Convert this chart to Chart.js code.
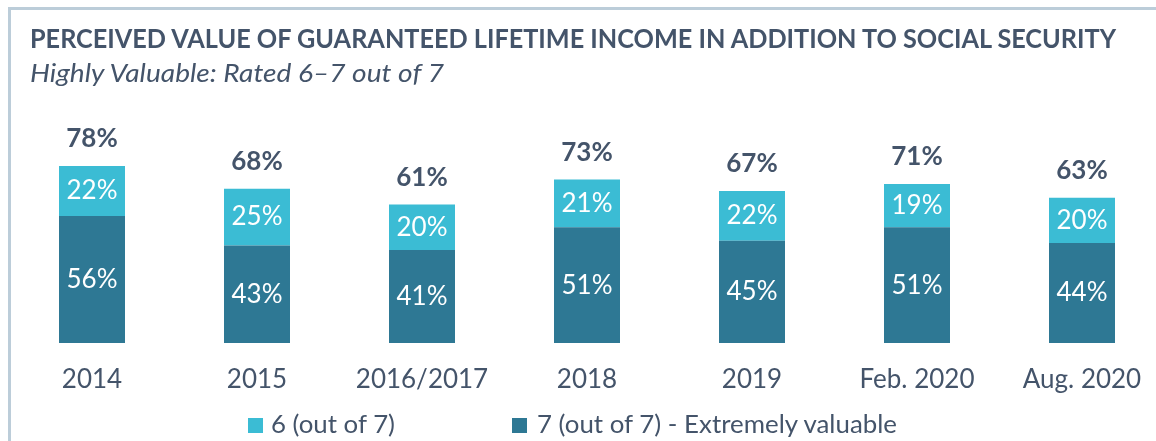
<!DOCTYPE html>
<html>
<head>
<meta charset="utf-8">
<script src="https://cdn.jsdelivr.net/npm/chart.js@4/dist/chart.umd.min.js"></script>
<style>
  html, body { margin: 0; padding: 0; background: #ffffff; overflow: hidden; }
  #wrap { position: relative; width: 1156px; height: 441px; overflow: hidden; background: #fff; }
  #frame { position: absolute; left: 8px; top: 7px; right: -20px; bottom: -20px;
           border-top: 3px solid #bccdd9; border-left: 3px solid #bccdd9; }
  #cv { position: absolute; left: 0; top: 0; }
  .txt { position: absolute; white-space: nowrap; font-family: Lato, "Open Sans", sans-serif; color: #44546a;
         transform-origin: 0 0; }
  #title { left: 30px; top: 25px; font-size: 26px; line-height: 26px; font-weight: 700; }
  #subtitle { left: 30px; top: 59px; font-size: 26px; line-height: 26px; font-style: italic; }
  .leg { position: absolute; top: 411px; height: 25px; }
  .leg .box { position: absolute; left: 0; top: 7px; width: 15px; height: 15px; }
  .leg .lt { position: absolute; top: 0; font-size: 25px; line-height: 25px; white-space: nowrap;
             font-family: Lato, "Open Sans", sans-serif; color: #44546a; transform-origin: 0 0; }
</style>
</head>
<body>
<div id="wrap">
  <div id="frame"></div>
  <canvas id="cv" width="1175" height="441"></canvas>
  <div id="title" class="txt">PERCEIVED VALUE OF GUARANTEED LIFETIME INCOME IN ADDITION TO SOCIAL SECURITY</div>
  <div id="subtitle" class="txt">Highly Valuable: Rated 6–7 out of 7</div>
  <div class="leg" id="leg1" style="left:248px"><div class="box" style="background:#3bbcd4"></div><div class="lt" style="left:23px">6 (out of 7)</div></div>
  <div class="leg" id="leg2" style="left:512px"><div class="box" style="background:#2e7894"></div><div class="lt" style="left:25px">7 (out of 7) - Extremely valuable</div></div>
</div>
<script>
// ---- data ----
const categories = ['2014', '2015', '2016/2017', '2018', '2019', 'Feb. 2020', 'Aug. 2020'];
const rated6 = [22, 25, 20, 21, 22, 19, 20];
const rated7 = [56, 43, 41, 51, 45, 51, 44];
const totals = [78, 68, 61, 73, 67, 71, 63];
const seriesNames = ['7 (out of 7) - Extremely valuable', '6 (out of 7)'];

// fit HTML texts to measured widths of the reference
function fitWidth(el, target) {
  const w = el.getBoundingClientRect().width;
  if (w > 0) el.style.transform = 'scaleX(' + (target / w) + ')';
}
fitWidth(document.getElementById('title'), 1086);
fitWidth(document.getElementById('subtitle'), 414);
fitWidth(document.querySelector('#leg1 .lt'), 124);
fitWidth(document.querySelector('#leg2 .lt'), 360);

const TEXT = '#44546a';
const DARK = '#2e7894';
const LIGHT = '#3bbcd4';

const labelPlugin = {
  id: 'barLabels',
  afterDatasetsDraw(chart) {
    const ctx = chart.ctx;
    ctx.save();
    ctx.textAlign = 'center';
    ctx.textBaseline = 'middle';
    ctx.fillStyle = '#ffffff';
    ctx.font = '26px Lato, "Open Sans", sans-serif';
    chart.data.datasets.forEach((ds, i) => {
      const meta = chart.getDatasetMeta(i);
      meta.data.forEach((bar, j) => {
        ctx.fillText(ds.data[j] + '%', bar.x, (bar.y + bar.base) / 2);
      });
    });
    const topMeta = chart.getDatasetMeta(chart.data.datasets.length - 1);
    ctx.fillStyle = TEXT;
    ctx.font = 'bold 26px Lato, "Open Sans", sans-serif';
    ctx.textBaseline = 'alphabetic';
    topMeta.data.forEach((bar, j) => {
      ctx.fillText(totals[j] + '%', bar.x, bar.y - 19);
    });
    ctx.restore();
  }
};

new Chart(document.getElementById('cv'), {
  type: 'bar',
  data: {
    labels: categories,
    datasets: [
      { label: seriesNames[0], data: rated7, backgroundColor: DARK, borderWidth: 0 },
      { label: seriesNames[1], data: rated6, backgroundColor: LIGHT, borderWidth: 0 }
    ]
  },
  options: {
    responsive: false,
    animation: false,
    events: [],
    layout: { padding: { left: 9.5, right: 10.5, top: 116, bottom: 38 } },
    datasets: { bar: { categoryPercentage: 1, barPercentage: 0.4 } },
    plugins: {
      legend: { display: false },
      title: { display: false },
      tooltip: { enabled: false }
    },
    scales: {
      x: {
        stacked: true,
        grid: { display: false, drawTicks: false },
        border: { display: false },
        ticks: {
          color: TEXT,
          font: { family: 'Lato, "Open Sans", sans-serif', size: 26 },
          padding: 21,
          maxRotation: 0,
          autoSkip: false
        },
        afterFit(scale) { scale.height = 60; }
      },
      y: {
        stacked: true,
        display: false,
        min: 0,
        max: 100
      }
    }
  },
  plugins: [labelPlugin]
});
</script>
</body>
</html>
